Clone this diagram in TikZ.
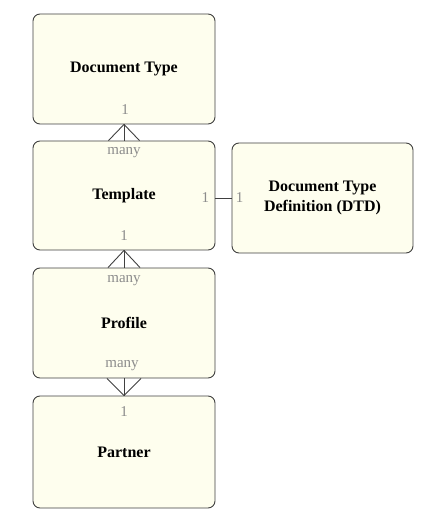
\documentclass[tikz,border=0pt]{standalone}
\usepackage{fontspec}
\setmainfont{Liberation Serif}
\usetikzlibrary{calc}
\definecolor{boxfill}{HTML}{FEFEEE}
\definecolor{boxline}{HTML}{404040}
\definecolor{lblgray}{HTML}{8C8C8C}
\tikzset{
  entity/.style={draw=boxline, fill=boxfill, line width=0.9pt, rounded corners=7pt,
    minimum width=182pt, minimum height=110pt, inner sep=0pt, align=center,
    font=\fontsize{16}{20}\selectfont\bfseries},
  mult/.style={text=lblgray, font=\fontsize{15}{18}\selectfont, inner sep=0pt},
  conn/.style={draw=boxline, line width=0.9pt}
}
\begin{document}
\begin{tikzpicture}[x=1pt,y=-1pt]
\useasboundingbox (0,0) rectangle (428,518);
\node[entity] (dt) at (124,69) {Document Type};
\node[entity, minimum height=109pt] (tpl) at (124,195.5) {Template};
\node[entity] (prof) at (124,323) {Profile};
\node[entity, minimum height=112pt] (part) at (124,452) {Partner};
\node[entity, minimum width=181pt] (dtd) at (322.5,198) {Document Type\\Definition (DTD)};
% crow's feet
\draw[conn] (dt.south) -- (tpl.north);
\draw[conn] (dt.south) -- ($(tpl.north)+(-15.5,0)$);
\draw[conn] (dt.south) -- ($(tpl.north)+(15.5,0)$);
\draw[conn] (tpl.south) -- (prof.north);
\draw[conn] (tpl.south) -- ($(prof.north)+(-16,0)$);
\draw[conn] (tpl.south) -- ($(prof.north)+(16,0)$);
\draw[conn] (prof.south) -- (part.north);
\draw[conn] ($(prof.south)+(-17,0)$) -- (part.north);
\draw[conn] ($(prof.south)+(17,0)$) -- (part.north);
\draw[conn] (tpl.east |- dtd.west) -- (dtd.west);
% multiplicities
\node[mult] (m1) at ($(dt.south)+(1,-15)$) {1};
\node[mult] (m2) at ($(tpl.north)+(0,12)$) {many};
\node[mult] (m3) at ($(tpl.south)+(0,-15)$) {1};
\node[mult] (m4) at ($(tpl.east)+(-10,2)$) {1};
\node[mult] (m5) at ($(dtd.west)+(8,0)$) {1};
\node[mult] (m6) at ($(prof.north)+(0,13)$) {many};
\node[mult] (m7) at ($(prof.south)+(-2,-13)$) {many};
\node[mult] (m8) at ($(part.north)+(0,16)$) {1};
\end{tikzpicture}
\end{document}
